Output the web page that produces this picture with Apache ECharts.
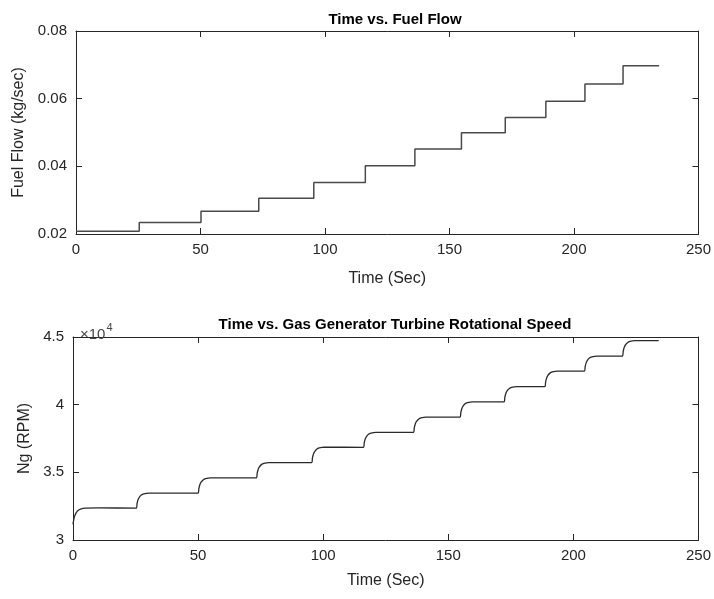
<!DOCTYPE html>
<html>
<head>
<meta charset="utf-8">
<script src="https://cdn.jsdelivr.net/npm/echarts@6/dist/echarts.min.js"></script>
<style>html,body{margin:0;padding:0;background:#fff;}#c{width:714px;height:599px;}</style>
</head>
<body>
<div id="c"></div>
<script>
// ---- Data ----
const xTicks = [0, 50, 100, 150, 200, 250];
const fuelTicks = [0.02, 0.04, 0.06, 0.08];
const ngTicks = [30000, 35000, 40000, 45000];

const fuelTime = [0, 25.4, 50.2, 73.4, 95.5, 116.2, 136.1, 154.8, 172.4, 188.7, 204.4, 219.7, 234.2];
const fuelFlow = [0.0208, 0.0234, 0.0267, 0.0306, 0.0352, 0.0402, 0.0451, 0.0499, 0.0544, 0.0592, 0.0643, 0.0697, 0.0697];

const ngTime = [
  0, 0.3, 0.7, 1.2, 2, 3, 5, 10, 25.3,
  25.6, 26.0, 26.5, 27.3, 28.3, 30.3, 50.0,
  50.3, 50.7, 51.2, 52.0, 53.0, 55.0, 73.3,
  73.6, 74.0, 74.5, 75.3, 76.3, 78.3, 95.4,
  95.7, 96.1, 96.6, 97.4, 98.4, 100.4, 116.1,
  116.4, 116.8, 117.3, 118.1, 119.1, 121.1, 136.1,
  136.4, 136.8, 137.3, 138.1, 139.1, 141.1, 154.7,
  155.0, 155.4, 155.9, 156.7, 157.7, 159.7, 172.3,
  172.6, 173.0, 173.5, 174.3, 175.3, 177.3, 188.6,
  188.9, 189.3, 189.8, 190.6, 191.6, 193.6, 204.4,
  204.7, 205.1, 205.6, 206.4, 207.4, 209.4, 219.6,
  219.9, 220.3, 220.8, 221.6, 222.6, 224.6, 234.1
];
const ngSpeed = [
  31150, 31500, 31780, 31990, 32180, 32290, 32360, 32370, 32360,
  32700, 32970, 33150, 33320, 33410, 33460, 33460,
  33800, 34080, 34270, 34440, 34530, 34590, 34590,
  34930, 35210, 35400, 35570, 35660, 35720, 35720,
  36060, 36350, 36540, 36710, 36800, 36860, 36850,
  37180, 37460, 37640, 37810, 37900, 37950, 37950,
  38290, 38570, 38760, 38930, 39020, 39080, 39080,
  39420, 39700, 39890, 40060, 40150, 40210, 40210,
  40550, 40830, 41020, 41180, 41270, 41330, 41330,
  41680, 41960, 42160, 42330, 42420, 42480, 42480,
  42810, 43090, 43280, 43450, 43530, 43590, 43590,
  43930, 44220, 44410, 44580, 44670, 44730, 44730
];

// ---- Chart ----
const txt = '#262626';
const axisCol = '#262626';
const font = 'Liberation Sans, Arial, sans-serif';

function xAx(gridIndex, pos, show, gap) {
  return {
    type: 'value', gridIndex: gridIndex, position: pos, min: 0, max: 250, interval: 50,
    axisLine: {show: true, onZero: false, lineStyle: {color: axisCol, width: 1}},
    axisTick: {show: true, inside: true, length: 6, lineStyle: {color: axisCol}},
    axisLabel: {show: show, color: txt, fontSize: 15, fontFamily: font, margin: 8},
    splitLine: {show: false},
    name: show ? 'Time (Sec)' : '', nameLocation: 'middle', nameGap: gap || 0,
    nameTextStyle: {color: txt, fontSize: 16, fontFamily: font}
  };
}
function yAx(gridIndex, pos, show, min, max, interval, fmt, name, gap) {
  return {
    type: 'value', gridIndex: gridIndex, position: pos, min: min, max: max, interval: interval,
    axisLine: {show: true, onZero: false, lineStyle: {color: axisCol, width: 1}},
    axisTick: {show: true, inside: true, length: 6, lineStyle: {color: axisCol}},
    axisLabel: {show: show, color: txt, fontSize: 15, fontFamily: font, margin: 9, formatter: fmt},
    splitLine: {show: false},
    name: show ? name : '', nameLocation: 'middle', nameGap: gap,
    nameTextStyle: {color: txt, fontSize: 16, fontFamily: font}
  };
}

const fuelData = fuelTime.map((t, i) => [t, fuelFlow[i]]);
const ngData = ngTime.map((t, i) => [t, ngSpeed[i]]);

const option = {
  animation: false,
  backgroundColor: '#fff',
  title: [
    {text: 'Time vs. Fuel Flow', left: 390, top: 7, textAlign: 'center',
     textStyle: {color: '#000', fontSize: 15, fontWeight: 'bold', fontFamily: font}},
    {text: 'Time vs. Gas Generator Turbine Rotational Speed', left: 390, top: 312, textAlign: 'center',
     textStyle: {color: '#000', fontSize: 15, fontWeight: 'bold', fontFamily: font}},
    {text: '{a|×10}{b|4}', left: 75, top: 317,
     textStyle: {rich: {
       a: {color: '#444', fontSize: 15, fontWeight: 'normal', fontFamily: font, verticalAlign: 'bottom'},
       b: {color: '#444', fontSize: 11, fontWeight: 'normal', fontFamily: font, verticalAlign: 'top', padding: [0,0,9,1]}
     }}}
  ],
  grid: [
    {left: 76, top: 31, width: 625, height: 203},
    {left: 73, top: 337, width: 626, height: 203}
  ],
  xAxis: [
    xAx(0, 'bottom', true, 37), xAx(0, 'top', false),
    xAx(1, 'bottom', true, 33), xAx(1, 'top', false)
  ],
  yAxis: [
    yAx(0, 'left', true, 0.02, 0.08, 0.02, v => v.toFixed(2), 'Fuel Flow (kg/sec)', 49),
    yAx(0, 'right', false, 0.02, 0.08, 0.02, null, '', 0),
    yAx(1, 'left', true, 30000, 45000, 5000, v => String(v / 10000), 'Ng (RPM)', 36),
    yAx(1, 'right', false, 30000, 45000, 5000, null, '', 0)
  ],
  series: [
    {type: 'line', xAxisIndex: 0, yAxisIndex: 0, data: fuelData, step: 'end', showSymbol: false,
     lineStyle: {color: '#4a4a4a', width: 1.5}},
    {type: 'line', xAxisIndex: 2, yAxisIndex: 2, data: ngData, showSymbol: false, smooth: 0.2,
     lineStyle: {color: '#2a2a2a', width: 1.3}}
  ]
};

const chart = echarts.init(document.getElementById('c'), null, {renderer: 'canvas'});
chart.setOption(option);
</script>
</body>
</html>
